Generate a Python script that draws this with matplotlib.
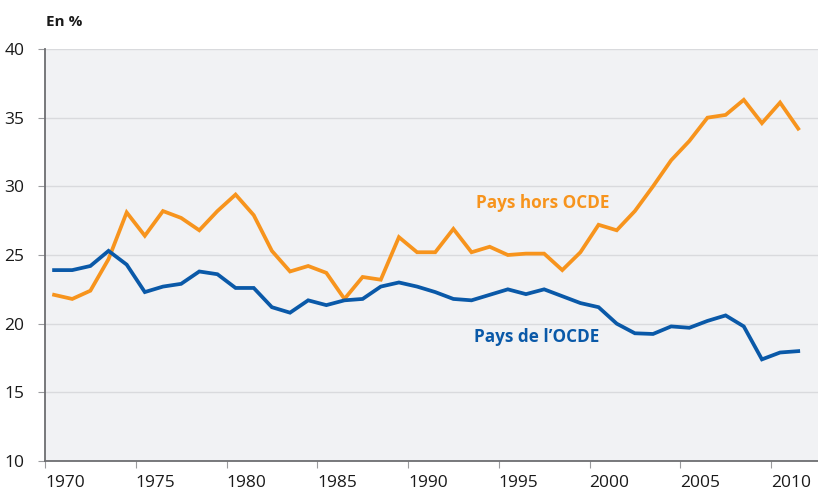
import numpy as np
import matplotlib
matplotlib.use("Agg")
import matplotlib.pyplot as plt

# ----- data ----- #
years = np.arange(1970, 2012)
hors_ocde = [22.1, 21.8, 22.4, 24.7, 28.1, 26.4, 28.2, 27.7, 26.8, 28.2,
             29.4, 27.9, 25.3, 23.8, 24.2, 23.7, 21.8, 23.4, 23.2, 26.3,
             25.2, 25.2, 26.9, 25.2, 25.6, 25.0, 25.1, 25.1, 23.9, 25.2,
             27.2, 26.8, 28.2, 30.0, 31.9, 33.3, 35.0, 35.2, 36.3, 34.6,
             36.1, 34.2]
ocde = [23.9, 23.9, 24.2, 25.3, 24.3, 22.3, 22.7, 22.9, 23.8, 23.6,
        22.6, 22.6, 21.2, 20.8, 21.7, 21.35, 21.7, 21.8, 22.7, 23.0,
        22.7, 22.3, 21.8, 21.7, 22.1, 22.5, 22.15, 22.5, 22.0, 21.5,
        21.2, 20.0, 19.3, 19.25, 19.8, 19.7, 20.2, 20.6, 19.8, 17.4,
        17.9, 18.0]
xticks = [1970, 1975, 1980, 1985, 1990, 1995, 2000, 2005, 2010]
yticks = [10, 15, 20, 25, 30, 35, 40]

orange = "#f7941d"
blue = "#0a59a8"
font = "Open Sans"

fig = plt.figure(figsize=(8.18, 4.91), dpi=100)
ax = fig.add_axes([45/818, 30/491, 773/818, 412/491])
ax.set_facecolor("#f1f2f4")

# annual values drawn at mid-year
ax.plot(years + 0.5, hors_ocde, color=orange, lw=2.7, solid_joinstyle="miter", zorder=3)
ax.plot(years + 0.5, ocde, color=blue, lw=2.7, solid_joinstyle="miter", zorder=3)

ax.set_xlim(1970, 1970 + 773/18.15)
ax.set_ylim(10, 40)
ax.set_xticks(xticks)
ax.set_yticks(yticks)
ax.grid(axis="y", color="#d9dadd", lw=1.0)
ax.set_axisbelow(True)

for s in ["top", "right"]:
    ax.spines[s].set_visible(False)
for s in ["left", "bottom"]:
    ax.spines[s].set_color("#6d6e71")
    ax.spines[s].set_linewidth(1.3)

ax.tick_params(axis="y", length=5, width=0.8, color="#9a9b9e", pad=10, labelsize=12.5)
ax.tick_params(axis="x", length=5, width=0.8, color="#9a9b9e", pad=5, labelsize=12.5)
for lab in ax.get_xticklabels() + ax.get_yticklabels():
    lab.set_fontfamily(font)
    lab.set_color("#1a1a1a")
for lab in ax.get_xticklabels():
    lab.set_horizontalalignment("left")

fig.text(543/818, 1 - 203/491, "Pays hors OCDE", color=orange, fontsize=12.3,
         fontweight="bold", family=font, ha="center", va="center")
fig.text(537/818, 1 - 337/491, "Pays de l\u2019OCDE", color=blue, fontsize=12.3,
         fontweight="bold", family=font, ha="center", va="center")
fig.text(46/818, 1 - 22/491, "En %", color="#1a1a1a", fontsize=11,
         fontweight="bold", family=font, ha="left", va="center")

fig.savefig("out.png", dpi=100)
